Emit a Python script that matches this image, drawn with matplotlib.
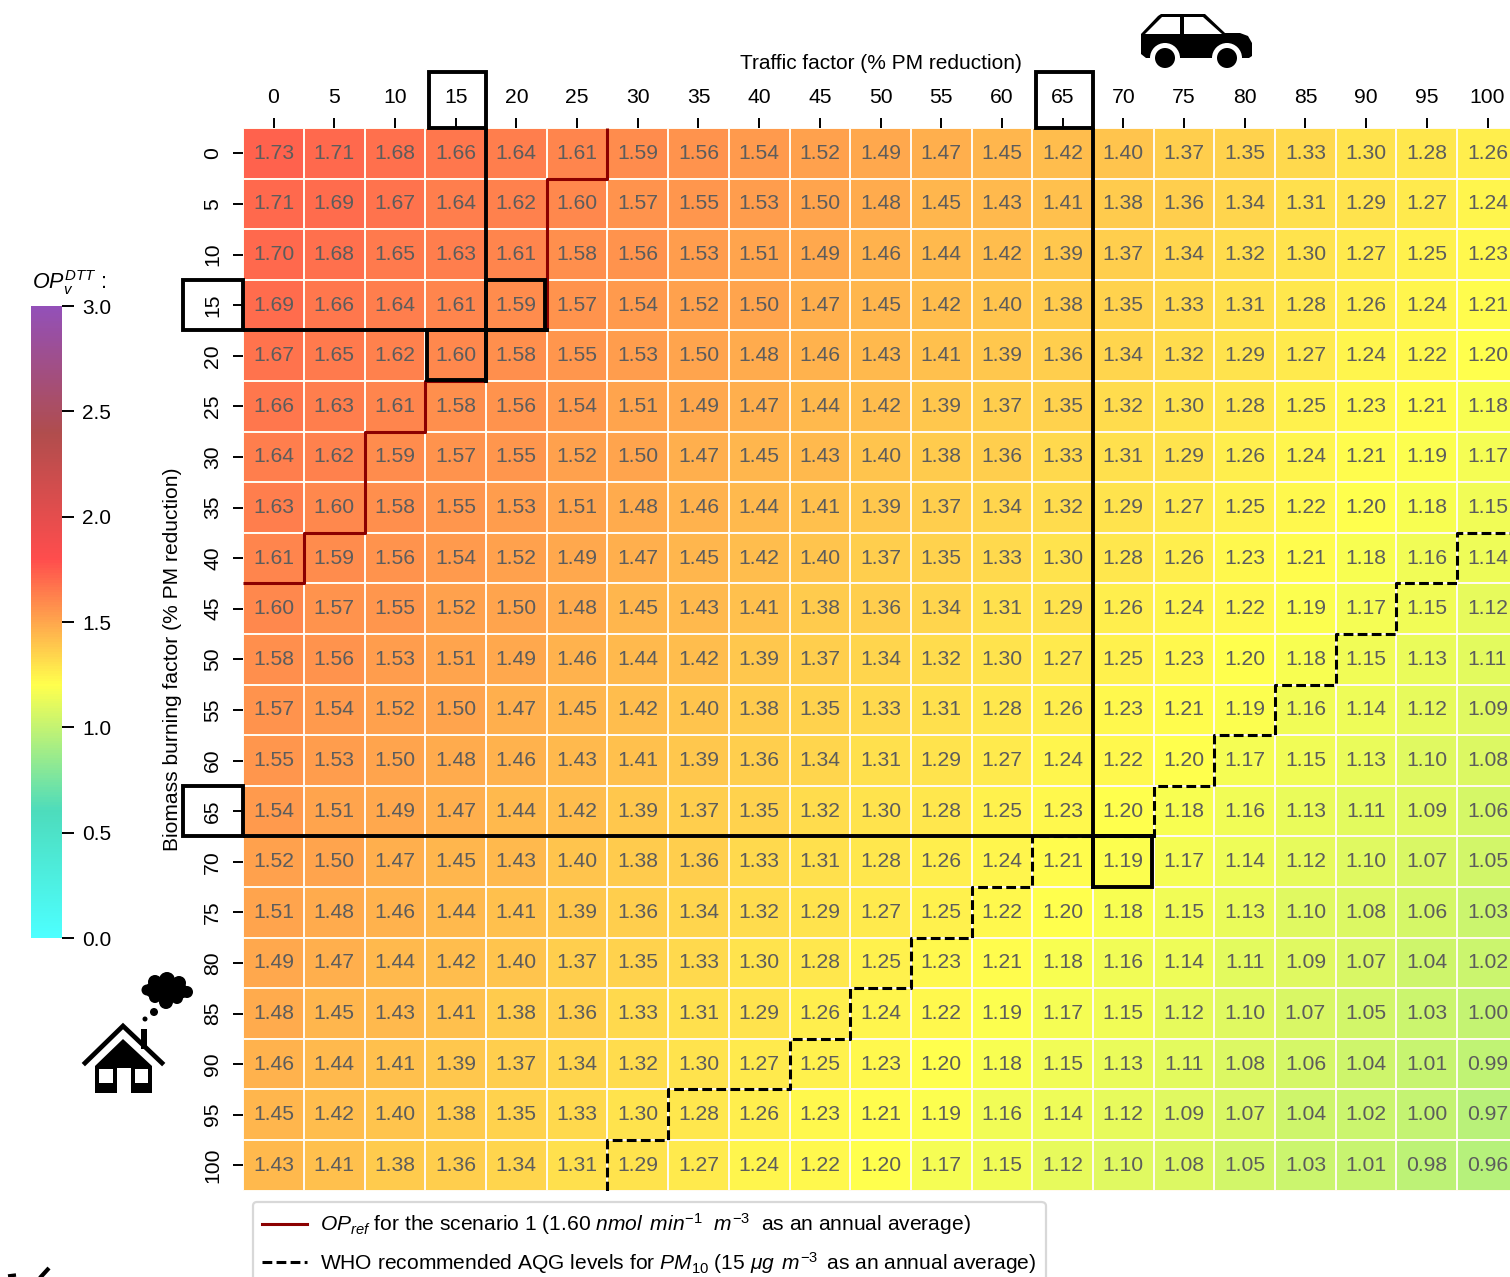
import matplotlib
matplotlib.use("Agg")
import matplotlib.pyplot as plt
import numpy as np
from matplotlib.colors import LinearSegmentedColormap
from matplotlib.lines import Line2D
from matplotlib.patches import Circle, Polygon, Rectangle

plt.rcParams["font.family"] = ["Liberation Sans", "DejaVu Sans"]
plt.rcParams["mathtext.fontset"] = "custom"
plt.rcParams["mathtext.rm"] = "Liberation Sans"
plt.rcParams["mathtext.it"] = "Liberation Sans:italic"
plt.rcParams["mathtext.bf"] = "Liberation Sans:bold"

traffic_levels = list(range(0, 105, 5))
biomass_levels = list(range(0, 105, 5))

op_values = [
    [1.73, 1.71, 1.68, 1.66, 1.64, 1.61, 1.59, 1.56, 1.54, 1.52, 1.49, 1.47, 1.45, 1.42, 1.40, 1.37, 1.35, 1.33, 1.30, 1.28, 1.26],
    [1.71, 1.69, 1.67, 1.64, 1.62, 1.60, 1.57, 1.55, 1.53, 1.50, 1.48, 1.45, 1.43, 1.41, 1.38, 1.36, 1.34, 1.31, 1.29, 1.27, 1.24],
    [1.70, 1.68, 1.65, 1.63, 1.61, 1.58, 1.56, 1.53, 1.51, 1.49, 1.46, 1.44, 1.42, 1.39, 1.37, 1.34, 1.32, 1.30, 1.27, 1.25, 1.23],
    [1.69, 1.66, 1.64, 1.61, 1.59, 1.57, 1.54, 1.52, 1.50, 1.47, 1.45, 1.42, 1.40, 1.38, 1.35, 1.33, 1.31, 1.28, 1.26, 1.24, 1.21],
    [1.67, 1.65, 1.62, 1.60, 1.58, 1.55, 1.53, 1.50, 1.48, 1.46, 1.43, 1.41, 1.39, 1.36, 1.34, 1.32, 1.29, 1.27, 1.24, 1.22, 1.20],
    [1.66, 1.63, 1.61, 1.58, 1.56, 1.54, 1.51, 1.49, 1.47, 1.44, 1.42, 1.39, 1.37, 1.35, 1.32, 1.30, 1.28, 1.25, 1.23, 1.21, 1.18],
    [1.64, 1.62, 1.59, 1.57, 1.55, 1.52, 1.50, 1.47, 1.45, 1.43, 1.40, 1.38, 1.36, 1.33, 1.31, 1.29, 1.26, 1.24, 1.21, 1.19, 1.17],
    [1.63, 1.60, 1.58, 1.55, 1.53, 1.51, 1.48, 1.46, 1.44, 1.41, 1.39, 1.37, 1.34, 1.32, 1.29, 1.27, 1.25, 1.22, 1.20, 1.18, 1.15],
    [1.61, 1.59, 1.56, 1.54, 1.52, 1.49, 1.47, 1.45, 1.42, 1.40, 1.37, 1.35, 1.33, 1.30, 1.28, 1.26, 1.23, 1.21, 1.18, 1.16, 1.14],
    [1.60, 1.57, 1.55, 1.52, 1.50, 1.48, 1.45, 1.43, 1.41, 1.38, 1.36, 1.34, 1.31, 1.29, 1.26, 1.24, 1.22, 1.19, 1.17, 1.15, 1.12],
    [1.58, 1.56, 1.53, 1.51, 1.49, 1.46, 1.44, 1.42, 1.39, 1.37, 1.34, 1.32, 1.30, 1.27, 1.25, 1.23, 1.20, 1.18, 1.15, 1.13, 1.11],
    [1.57, 1.54, 1.52, 1.50, 1.47, 1.45, 1.42, 1.40, 1.38, 1.35, 1.33, 1.31, 1.28, 1.26, 1.23, 1.21, 1.19, 1.16, 1.14, 1.12, 1.09],
    [1.55, 1.53, 1.50, 1.48, 1.46, 1.43, 1.41, 1.39, 1.36, 1.34, 1.31, 1.29, 1.27, 1.24, 1.22, 1.20, 1.17, 1.15, 1.13, 1.10, 1.08],
    [1.54, 1.51, 1.49, 1.47, 1.44, 1.42, 1.39, 1.37, 1.35, 1.32, 1.30, 1.28, 1.25, 1.23, 1.20, 1.18, 1.16, 1.13, 1.11, 1.09, 1.06],
    [1.52, 1.50, 1.47, 1.45, 1.43, 1.40, 1.38, 1.36, 1.33, 1.31, 1.28, 1.26, 1.24, 1.21, 1.19, 1.17, 1.14, 1.12, 1.10, 1.07, 1.05],
    [1.51, 1.48, 1.46, 1.44, 1.41, 1.39, 1.36, 1.34, 1.32, 1.29, 1.27, 1.25, 1.22, 1.20, 1.18, 1.15, 1.13, 1.10, 1.08, 1.06, 1.03],
    [1.49, 1.47, 1.44, 1.42, 1.40, 1.37, 1.35, 1.33, 1.30, 1.28, 1.25, 1.23, 1.21, 1.18, 1.16, 1.14, 1.11, 1.09, 1.07, 1.04, 1.02],
    [1.48, 1.45, 1.43, 1.41, 1.38, 1.36, 1.33, 1.31, 1.29, 1.26, 1.24, 1.22, 1.19, 1.17, 1.15, 1.12, 1.10, 1.07, 1.05, 1.03, 1.00],
    [1.46, 1.44, 1.41, 1.39, 1.37, 1.34, 1.32, 1.30, 1.27, 1.25, 1.23, 1.20, 1.18, 1.15, 1.13, 1.11, 1.08, 1.06, 1.04, 1.01, 0.99],
    [1.45, 1.42, 1.40, 1.38, 1.35, 1.33, 1.30, 1.28, 1.26, 1.23, 1.21, 1.19, 1.16, 1.14, 1.12, 1.09, 1.07, 1.04, 1.02, 1.00, 0.97],
    [1.43, 1.41, 1.38, 1.36, 1.34, 1.31, 1.29, 1.27, 1.24, 1.22, 1.20, 1.17, 1.15, 1.12, 1.10, 1.08, 1.05, 1.03, 1.01, 0.98, 0.96],
]

# step lines, in cell edges (column, row)
ref_x = [6, 6, 5, 5, 4, 4, 3, 3, 2, 2, 1, 1, 0]
ref_y = [0, 1, 1, 4, 4, 5, 5, 6, 6, 8, 8, 9, 9]
who_x = [6, 6, 7, 7, 9, 9, 10, 10, 11, 11, 12, 12, 13, 13, 15, 15, 16, 16, 17, 17, 18, 18, 19, 19, 20, 20, 21]
who_y = [21, 20, 20, 19, 19, 18, 18, 17, 17, 16, 16, 15, 15, 14, 14, 13, 13, 12, 12, 11, 11, 10, 10, 9, 9, 8, 8]

cbar_ticks = [0.0, 0.5, 1.0, 1.5, 2.0, 2.5, 3.0]
cmap_colors = ["#4dffff", "#4ddcbc", "#ffff4d", "#ff4d4d", "#b04d4d", "#9350b8"]

W, H = 1510, 1277
fig = plt.figure(figsize=(W / 100, H / 100), dpi=100)


# helper, axes box from pixels measured from the top left
def pixel_box(left, top, right, bottom):
    return [left / W, 1 - bottom / H, (right - left) / W, (bottom - top) / H]


cmap = LinearSegmentedColormap.from_list("op", cmap_colors)
ax = fig.add_axes(pixel_box(243.2, 128, 243.2 + 21 * 60.7, 128 + 21 * 50.6))
values = np.array(op_values)
mesh = ax.pcolormesh(values, cmap=cmap, vmin=0, vmax=3, edgecolors="#fffaf0", linewidth=1.3)
ax.set_xlim(0, 21)
ax.set_ylim(21, 0)

for i in range(values.shape[0]):
    for j in range(values.shape[1]):
        ax.text(j + 0.5, i + 0.5, f"{values[i, j]:.2f}", ha="center", va="center",
                fontsize=15.2, color="#5c5c5c")

ax.xaxis.tick_top()
ax.set_xticks(np.arange(21) + 0.5)
ax.set_xticklabels(traffic_levels)
ax.set_yticks(np.arange(21) + 0.5)
ax.set_yticklabels(biomass_levels, rotation=90, va="center")
ax.tick_params(axis="both", length=7.5, width=1.4, labelsize=15.2, pad=7.5)
for spine in ax.spines.values():
    spine.set_visible(False)

ax.set_xlabel("Traffic factor (% PM reduction)", fontsize=15, labelpad=14)
ax.xaxis.set_label_position("top")
ax.xaxis.get_label().set_position((638 / (21 * 60.7), 1))
ax.set_ylabel("Biomass burning factor (% PM reduction)", fontsize=15.1, labelpad=15.5)
ax.yaxis.get_label().set_position((0, 1 - (1063 - 532) / (21 * 50.6)))

ax.plot(ref_x, ref_y, color="darkred", lw=2.2, solid_capstyle="butt")
ax.plot(who_x, who_y, color="black", lw=2.2, ls=(0, (3.2, 1.4)))

# selected scenarios, black boxes and lines
BOX = dict(fill=False, edgecolor="black", lw=2.8, clip_on=False, zorder=5)
ax.add_patch(Rectangle((3.06, -1.11), 0.94, 1.11, **BOX))
ax.add_patch(Rectangle((13.06, -1.11), 0.94, 1.11, **BOX))
ax.add_patch(Rectangle((-1, 3), 1, 1, **BOX))
ax.add_patch(Rectangle((-1, 13), 1, 1, **BOX))
ax.add_patch(Rectangle((4, 3), 0.97, 1, **BOX))
ax.add_patch(Rectangle((3.03, 4), 0.97, 0.98, **BOX))
ax.add_patch(Rectangle((14, 14), 0.97, 1, **BOX))
ax.plot([4, 4], [0, 5], color="black", lw=2.8, zorder=5)
ax.plot([14, 14], [0, 15], color="black", lw=2.8, zorder=5)
ax.plot([0, 5], [4, 4], color="black", lw=2.8, zorder=5)
ax.plot([0, 15], [14, 14], color="black", lw=2.8, zorder=5)

# colorbar
cax = fig.add_axes(pixel_box(31, 306, 62, 938))
cbar = fig.colorbar(mesh, cax=cax)
cbar.set_ticks(cbar_ticks)
cbar.set_ticklabels([f"{t:.1f}" for t in cbar_ticks])
cbar.outline.set_visible(False)
cax.tick_params(length=8.5, width=1.4, labelsize=15, pad=6)
fig.text(32 / W, 1 - 289 / H, r"$OP_v^{DTT}$ :", fontsize=15.5, ha="left", va="baseline")

# legend
handles = [
    Line2D([], [], color="darkred", lw=2.2),
    Line2D([], [], color="black", lw=2.2, ls=(0, (3.2, 1.4))),
]
labels = [
    r"$OP_{ref}$ for the scenario 1 (1.60 $nmol\ \,min^{-1}\ \ m^{-3}\ $ as an annual average)",
    r"WHO recommended AQG levels for $PM_{10}$ (15 $\mu g\ \,m^{-3}\,$ as an annual average)",
]
ax.legend(handles, labels, loc="upper left", bbox_to_anchor=(253 / W, 1 - 1202 / H),
          bbox_transform=fig.transFigure, borderaxespad=0, fontsize=15.15, framealpha=1,
          edgecolor="#d8d8d8", labelspacing=0.6, handlelength=2.13, handletextpad=0.6,
          borderpad=0.45).get_frame().set_linewidth(1.6)

# icons, drawn on an overlay in pixel coordinates
over = fig.add_axes([0, 0, 1, 1], zorder=10)
over.set_xlim(0, W)
over.set_ylim(H, 0)
over.axis("off")
over.patch.set_alpha(0)


def shape(points, color="black"):
    over.add_patch(Polygon(points, closed=True, facecolor=color, edgecolor="none"))


def dot(x, y, r, color="black"):
    over.add_patch(Circle((x, y), r, facecolor=color, edgecolor="none"))


# car
shape([(1141, 34), (1158, 16), (1161, 14), (1205, 14), (1225, 33), (1240, 33), (1248, 36), (1252, 43),
       (1252, 56), (1249, 58), (1146, 58), (1141, 54)])
shape([(1145, 34), (1162, 17), (1180, 17), (1180, 34)], "white")
shape([(1184, 34), (1184, 17), (1203, 17), (1222, 34)], "white")
for cx in [1165, 1227]:
    dot(cx, 58, 15, "white")
    dot(cx, 58, 10)

# house with smoke
over.plot([85, 123, 162], [1063, 1026, 1063], color="black", lw=3.4, solid_joinstyle="miter")
over.add_patch(Rectangle((141, 1029), 6, 20, facecolor="black", edgecolor="none"))
shape([(95, 1066), (123, 1039), (152, 1066), (152, 1093), (95, 1093)])
over.add_patch(Rectangle((117, 1068), 14, 26, facecolor="white", edgecolor="none"))
over.add_patch(Rectangle((99, 1069), 14, 14, facecolor="white", edgecolor="none"))
over.add_patch(Rectangle((135, 1069), 13, 14, facecolor="white", edgecolor="none"))
dot(145, 1019, 2.5)
dot(154, 1012, 4)
for cx, cy, r in [(147, 990, 5.5), (155, 982, 7), (167, 980, 8), (179, 983, 7), (187, 992, 6),
                  (177, 998, 6), (166, 1002, 7), (155, 997, 6), (166, 990, 12), (153, 990, 8), (180, 991, 8)]:
    dot(cx, cy, r)

# cut off mark in the bottom left corner
over.plot([38, 49], [1280, 1268], color="black", lw=3, solid_capstyle="butt")
over.plot([8, 16], [1276, 1275], color="black", lw=2.5, solid_capstyle="butt")

fig.savefig("out.png", dpi=100)
